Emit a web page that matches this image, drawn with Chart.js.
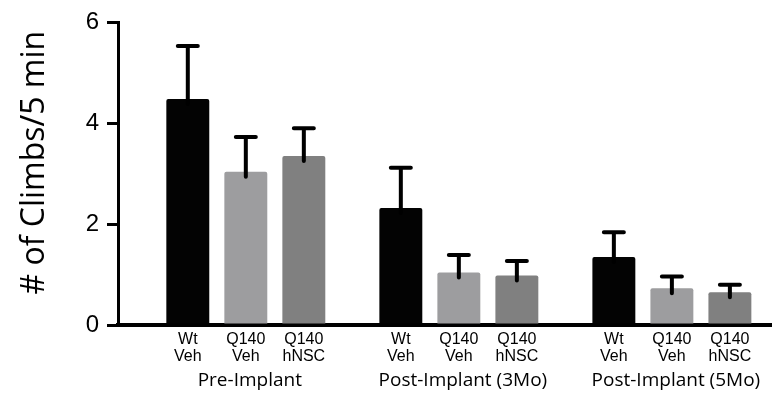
<!DOCTYPE html>
<html>
<head>
<meta charset="utf-8">
<script src="https://cdn.jsdelivr.net/npm/chart.js@4"></script>
<style>
  html, body { margin: 0; padding: 0; background: #fff; }
  #wrap { width: 772px; height: 395px; }
</style>
</head>
<body>
<div id="wrap"><canvas id="chart"></canvas></div>
<script>
// groups along the x axis
const groups = ['Pre-Implant', 'Post-Implant (3Mo)', 'Post-Implant (5Mo)'];
// two-line label under each bar of a group
const barLabels = [['Wt', 'Veh'], ['Q140', 'Veh'], ['Q140', 'hNSC']];
// mean climbs per 5 min
const wtVeh = [4.48, 2.32, 1.35];
const q140Veh = [3.04, 1.04, 0.73];
const q140hNSC = [3.35, 0.98, 0.65];
// upper error (SEM)
const wtVehErr = [1.05, 0.80, 0.49];
const q140VehErr = [0.69, 0.35, 0.23];
const q140hNSCErr = [0.55, 0.29, 0.15];
const yTicks = [0, 2, 4, 6];
const yTitle = '# of Climbs/5 min';

const toPoints = (vals) => vals.map((v, i) => ({ x: i, y: v }));

// upward error bars
const errorBars = {
    id: 'errorBars',
    afterDatasetsDraw(chart) {
        const ctx = chart.ctx
        const y = chart.scales.y
        ctx.save()
        ctx.strokeStyle = '#000'
        ctx.lineWidth = 4
        ctx.lineCap = 'round'
        chart.data.datasets.forEach((ds, di) => {
            chart.getDatasetMeta(di).data.forEach((bar, i) => {
                const top = y.getPixelForValue(ds.data[i].y + ds.err[i])
                ctx.beginPath()
                ctx.moveTo(bar.x, bar.y + 5)
                ctx.lineTo(bar.x, top)
                ctx.moveTo(bar.x - 10, top)
                ctx.lineTo(bar.x + 10, top)
                ctx.stroke()
            })
        })
        ctx.restore()
    }
}

// labels under the bars, group names and the y title
const labels = {
    id: 'labels',
    afterDraw(chart) {
        const ctx = chart.ctx
        const area = chart.chartArea
        const base = area.bottom
        ctx.save()
        ctx.fillStyle = '#000'
        ctx.textAlign = 'center'
        ctx.textBaseline = 'middle'
        ctx.font = '16px "Liberation Sans", Arial, sans-serif'
        chart.data.datasets.forEach((ds, di) => {
            chart.getDatasetMeta(di).data.forEach((bar) => {
                ctx.fillText(barLabels[di][0], bar.x, base + 15)
                ctx.fillText(barLabels[di][1], bar.x, base + 32)
            })
        })
        ctx.font = '19px "Open Sans", sans-serif'
        groups.forEach((g, i) => {
            ctx.fillText(g, chart.scales.x.getPixelForValue(i) + 4, base + 56)
        })
        ctx.translate(35, (area.top + area.bottom) / 2 - 11)
        ctx.rotate(-Math.PI / 2)
        ctx.font = '32px "Open Sans", sans-serif'
        ctx.fillText(yTitle, 0, 0)
        ctx.restore()
    }
}

const chart = new Chart(document.getElementById('chart'), {
    type: 'bar',
    data: {
        datasets: [
            { label: 'Wt Veh', data: toPoints(wtVeh), err: wtVehErr, backgroundColor: '#030303' },
            { label: 'Q140 Veh', data: toPoints(q140Veh), err: q140VehErr, backgroundColor: '#9d9d9f' },
            { label: 'Q140 hNSC', data: toPoints(q140hNSC), err: q140hNSCErr, backgroundColor: '#808080' }
        ]
    },
    options: {
        responsive: true,
        maintainAspectRatio: false,
        animation: false,
        layout: { padding: { top: 20, right: 0, bottom: 70, left: 0 } },
        categoryPercentage: 0.817,
        barPercentage: 0.74,
        borderRadius: { topLeft: 2, topRight: 2 },
        borderSkipped: 'bottom',
        plugins: {
            legend: { display: false },
            tooltip: { enabled: false }
        },
        scales: {
            x: {
                type: 'linear',
                min: -0.6,
                max: 2.47,
                offset: false,
                afterBuildTicks: (s) => { s.ticks = groups.map((g, i) => ({ value: i })) },
                grid: { display: false, drawTicks: false },
                ticks: { display: false },
                border: { display: true, color: '#000', width: 4 }
            },
            y: {
                min: 0,
                max: 6,
                afterBuildTicks: (s) => { s.ticks = yTicks.map((v) => ({ value: v })) },
                afterFit: (s) => { s.width = 118 },
                ticks: {
                    color: '#000',
                    padding: 8,
                    font: { family: '"Liberation Sans", Arial, sans-serif', size: 24 }
                },
                grid: {
                    drawOnChartArea: false,
                    drawTicks: true,
                    tickLength: 11,
                    lineWidth: 3,
                    color: '#000'
                },
                border: { display: true, color: '#000', width: 3 }
            }
        }
    },
    plugins: [errorBars, labels]
});
</script>
</body>
</html>
